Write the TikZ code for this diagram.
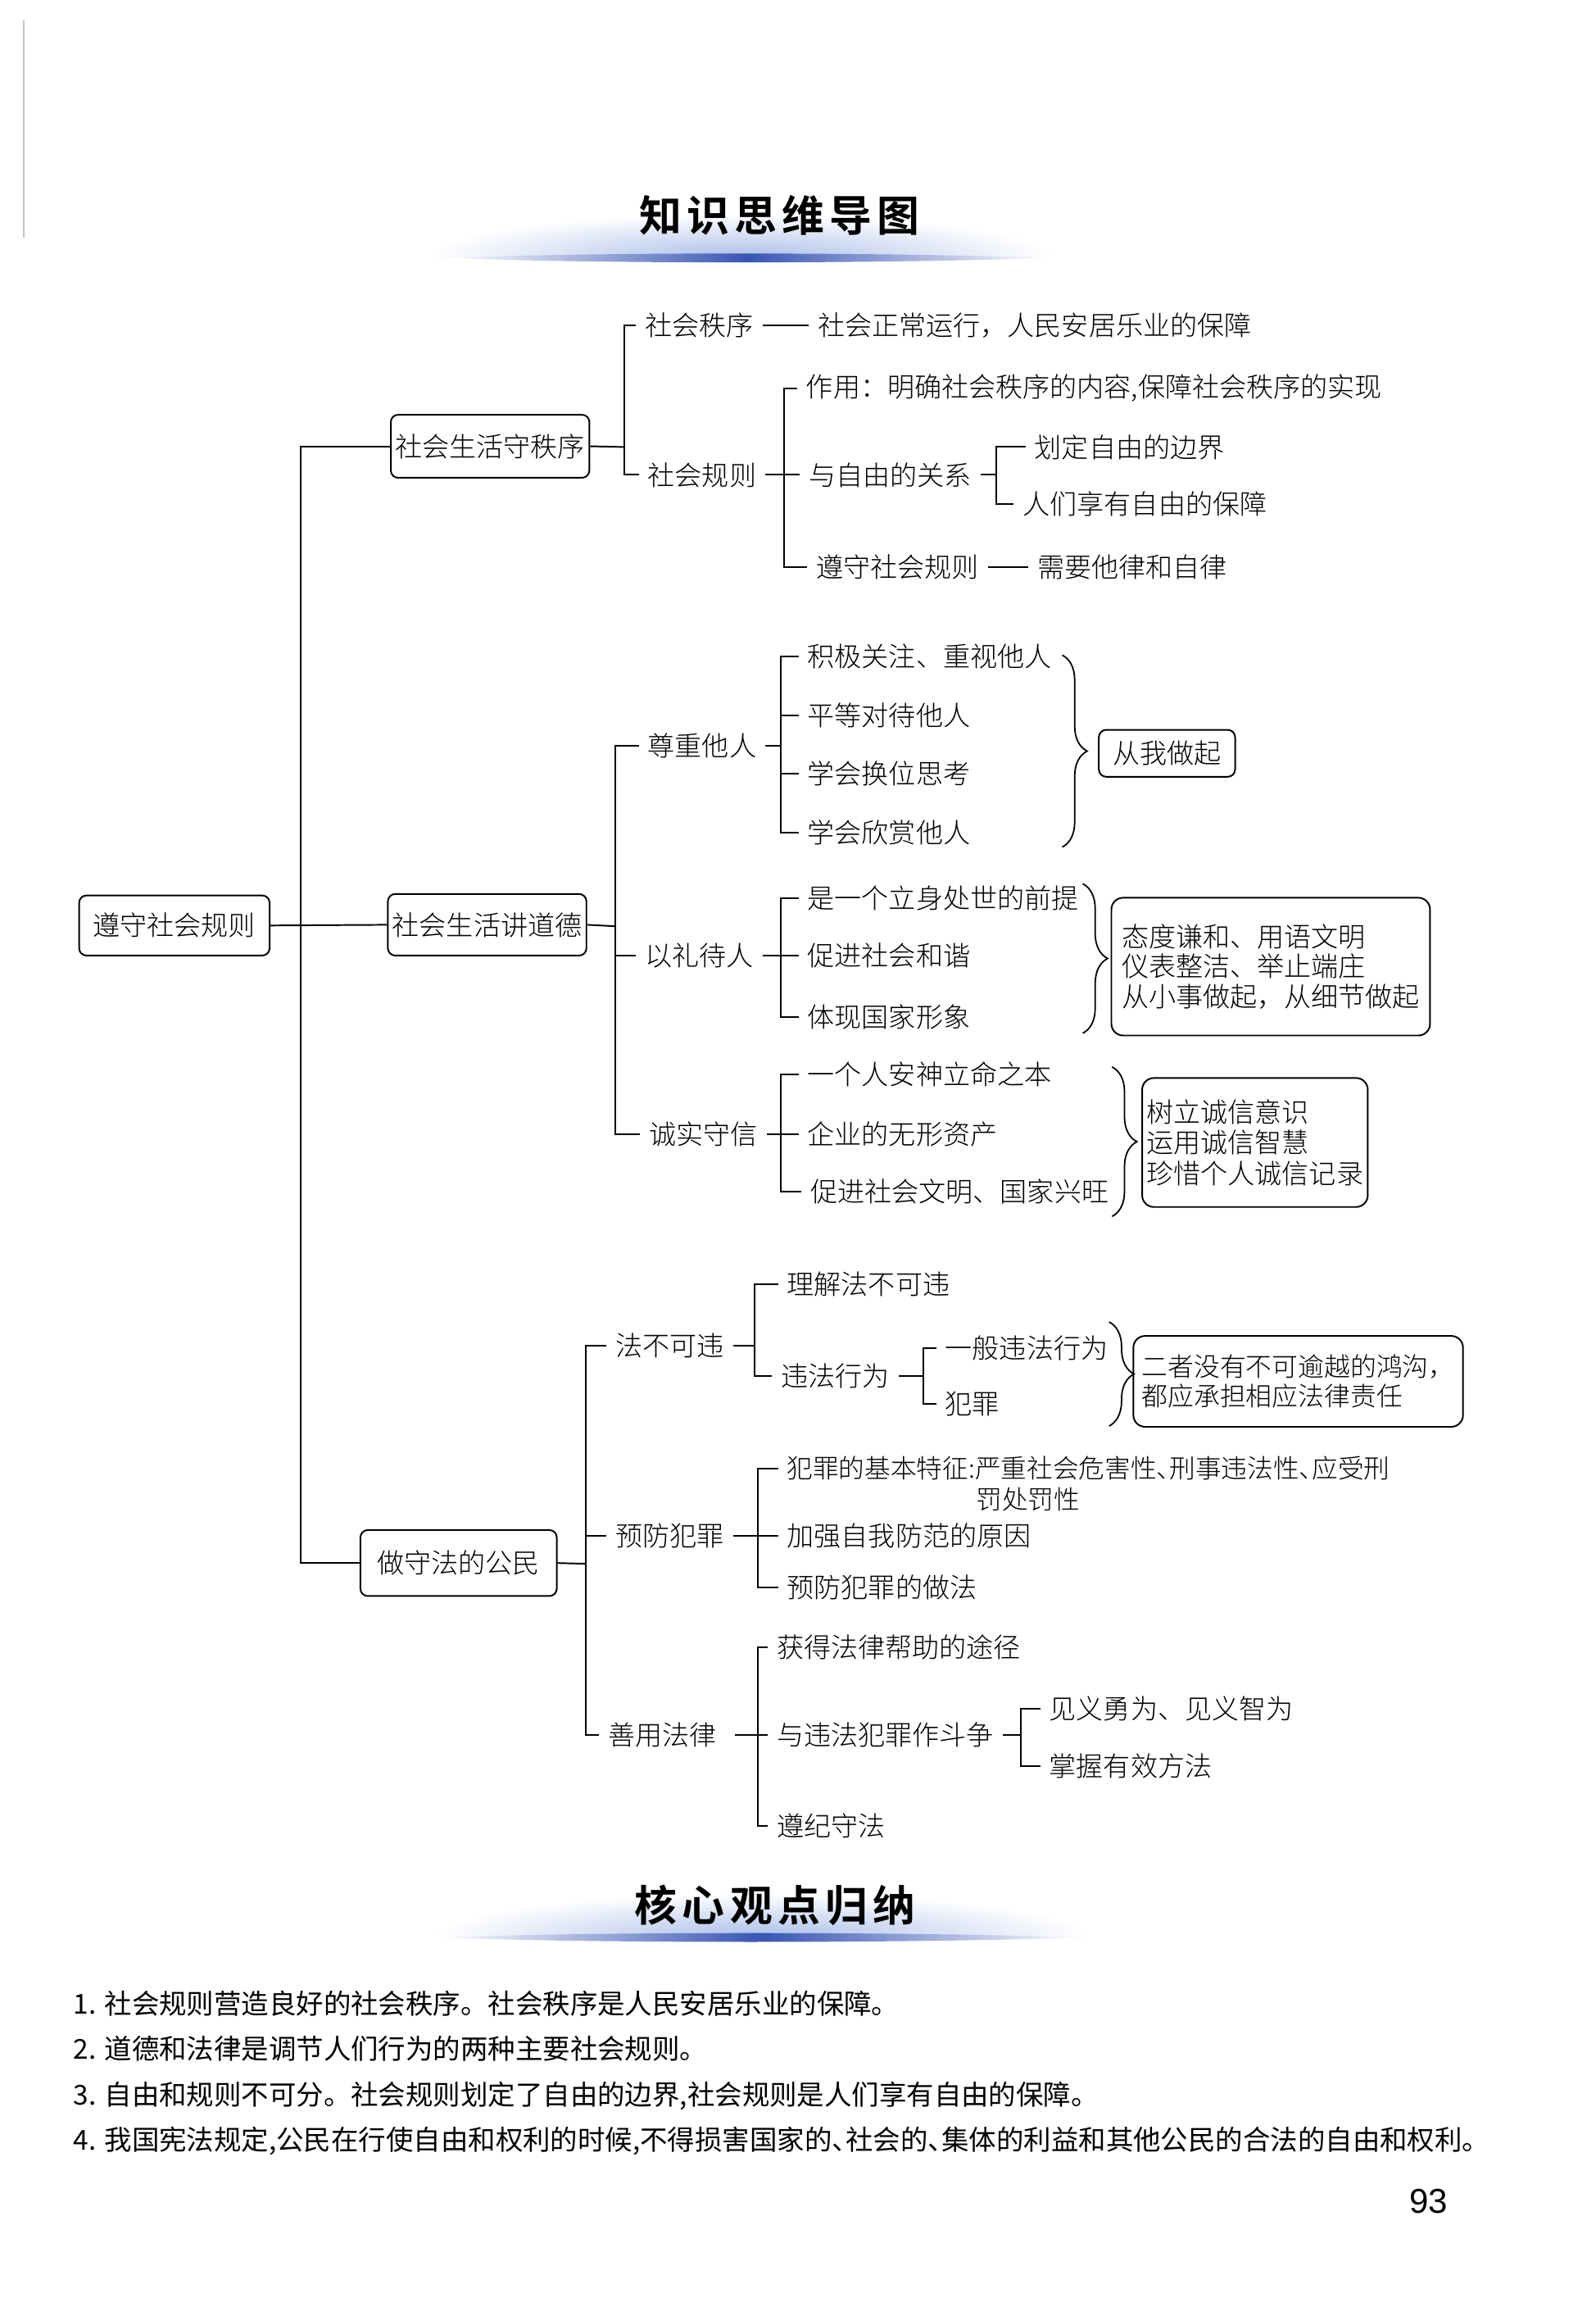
\documentclass[tikz,border=0pt]{standalone}
\usepackage{fontspec}
\setmainfont{Noto Sans CJK SC}
\newfontfamily\cjk{Noto Sans CJK SC}
\newfontfamily\cjkl{Noto Sans CJK SC Light}
\newfontfamily\cjkt{Noto Sans CJK SC Bold}[LetterSpace=12]
\newfontfamily\numfont{Liberation Sans}
\usetikzlibrary{decorations.pathreplacing}
\newcommand{\mysz}{\fontsize{18.5}{20.5}\selectfont}
\newcommand{\hw}[1]{\makebox[0.5em][l]{#1}}
\definecolor{barblue}{RGB}{55,85,180}
\definecolor{hazeblue}{RGB}{170,190,232}
\tikzset{
  ln/.style={line width=1.1pt},
  box/.style={draw, rounded corners=5pt, line width=1.1pt, font=\cjkl\mysz, inner xsep=3pt, inner ysep=2pt},
  bigbox/.style={draw, rounded corners=8pt, line width=1.1pt, font=\cjkl\mysz, align=left, anchor=north west},
  txt/.style={anchor=west, inner xsep=6pt, inner ysep=2pt, font=\cjkl\mysz},
  brc/.style={decorate, decoration={brace, amplitude=17pt, aspect=0.5}, line width=1pt},
  title/.style={font=\cjkt\fontsize{29}{29}\selectfont},
  para/.style={anchor=west, inner sep=0pt, font=\cjk\fontsize{18.7}{20.5}\selectfont},
}
\begin{document}
\begin{tikzpicture}[x=1pt,y=-1pt]
\useasboundingbox (0,0) rectangle (1089,1568);
\fill[white] (0,0) rectangle (1089,1568);
% scan edge line
\draw[gray!45, line width=1pt] (16,14) -- (16,162);

% ---------- title 1 ----------
\begin{scope}
  \clip (280,120) rectangle (760,176);
  \shade[inner color=hazeblue, outer color=white] (505,176) ellipse (215 and 30);
\end{scope}
\shade[left color=white, right color=white, middle color=barblue]
  (305,176) .. controls (420,171.5) and (620,172.5) .. (715,176)
  .. controls (620,179.5) and (420,180.5) .. (305,176);
\node[title] (t1) at (532,147) {知识思维导图};

% ---------- level 0 / 1 ----------
\node[box, minimum width=130, minimum height=41] (root) at (119,631.5) {遵守社会规则};
\node[box, minimum width=135, minimum height=43] (order) at (334.5,304.5) {社会生活守秩序};
\node[box, minimum width=135, minimum height=42] (moral) at (332.5,631) {社会生活讲道德};
\node[box, minimum width=134, minimum height=45] (law) at (313,1066.5) {做守法的公民};

\coordinate (bus0) at (205,632);
\draw[ln] (root.east) -- (moral.west);
\draw[ln] (order.west) -| (bus0) |- (law.west);

% ---------- branch 1 ----------
\node[txt] (shzx) at (434,222) {社会秩序};
\node[txt] (shzxd) at (552,222) {社会正常运行，人民安居乐业的保障};
\node[txt] (shgz) at (436,324) {社会规则};
\node[txt] (zy) at (544,265) {作用：明确社会秩序的内容,保障社会秩序的实现};
\node[txt] (yzy) at (546,324) {与自由的关系};
\node[txt] (hd) at (700,305) {划定自由的边界};
\node[txt] (rm) at (692,344) {人们享有自由的保障};
\node[txt] (zsgz) at (551,387) {遵守社会规则};
\node[txt] (tlzl) at (702,387) {需要他律和自律};

\coordinate (bus1) at (426,305);
\coordinate (bus2) at (535,324);
\coordinate (bus3) at (680,324);
\draw[ln] (order.east) -- (bus1);
\draw[ln] (shzx.west) -| (bus1) |- (shgz.west);
\draw[ln] (shzx.east) -- (shzxd.west);
\draw[ln] (shgz.east) -- (yzy.west);
\draw[ln] (zy.west) -| (bus2) |- (zsgz.west);
\draw[ln] (yzy.east) -- (bus3);
\draw[ln] (hd.west) -| (bus3) |- (rm.west);
\draw[ln] (zsgz.east) -- (tlzl.west);

% ---------- branch 2 ----------
\node[txt] (zz) at (436,509) {尊重他人};
\node[txt] (jj) at (545,448) {积极关注、重视他人};
\node[txt] (pd) at (545,488) {平等对待他人};
\node[txt] (hw) at (545,528) {学会换位思考};
\node[txt] (xs) at (545,568) {学会欣赏他人};
\node[box, minimum width=93, minimum height=32] (cwzq) at (796.5,514) {从我做起};

\node[txt] (ylr) at (434,652) {以礼待人};
\node[txt] (qt) at (545,613) {是一个立身处世的前提};
\node[txt] (cjhx) at (545,652) {促进社会和谐};
\node[txt] (tx) at (545,694) {体现国家形象};
\node[bigbox, minimum width=216, minimum height=94, inner xsep=7pt] (lybox) at (758,612)
  {态度谦和、用语文明\\仪表整洁、举止端庄\\从小事做起，从细节做起};

\node[txt] (cs) at (437,774) {诚实守信};
\node[txt] (yg) at (545,733) {一个人安神立命之本};
\node[txt] (qy) at (545,774) {企业的无形资产};
\node[txt] (cj) at (547,813) {促进社会文明、国家兴旺};
\node[bigbox, minimum width=153, minimum height=88, inner xsep=3pt,
  font=\cjkl\fontsize{18.5}{21}\selectfont] (cxbox) at (779,735)
  {树立诚信意识\\运用诚信智慧\\珍惜个人诚信记录};

\coordinate (bus4) at (420,632);
\coordinate (bus5) at (533,509);
\coordinate (bus6) at (533,652);
\coordinate (bus7) at (533,774);
\draw[ln] (moral.east) -- (bus4);
\draw[ln] (zz.west) -| (bus4) |- (cs.west);
\draw[ln] (ylr.west) -- (ylr.west -| bus4);
\draw[ln] (zz.east) -- (bus5);
\draw[ln] (jj.west) -| (bus5) |- (xs.west);
\draw[ln] (pd.west) -- (pd.west -| bus5);
\draw[ln] (hw.west) -- (hw.west -| bus5);
\draw[ln] (ylr.east) -- (cjhx.west);
\draw[ln] (qt.west) -| (bus6) |- (tx.west);
\draw[ln] (cs.east) -- (qy.west);
\draw[ln] (yg.west) -| (bus7) |- (cj.west);

\draw[brc] (725,447) -- (725,578);
\draw[brc] (739,603) -- (739,705);
\draw[brc] (759,728) -- (759,830);

% ---------- branch 3 ----------
\node[txt] (fbkw) at (414,918) {法不可违};
\node[txt] (lj) at (531,876) {理解法不可违};
\node[txt] (wf) at (527,939) {违法行为};
\node[txt] (yb) at (639,920) {一般违法行为};
\node[txt] (fz) at (639,958) {犯罪};
\node[bigbox, minimum width=225, minimum height=62, inner xsep=5pt,
  font=\cjkl\fontsize{17.8}{20}\selectfont] (zrbox) at (773,911)
  {二者没有不可逾越的鸿沟，\\都应承担相应法律责任};

\node[txt] (yf) at (414,1048) {预防犯罪};
\node[txt, font=\cjkl\fontsize{17.7}{20}\selectfont] (tz) at (531,1002) {犯罪的基本特征:严重社会危害性\hw{、}刑事违法性\hw{、}应受刑};
\node[txt, font=\cjkl\fontsize{17.7}{20}\selectfont] (tz2) at (660,1023) {罚处罚性};
\node[txt] (jq) at (531,1048) {加强自我防范的原因};
\node[txt] (zf) at (531,1083) {预防犯罪的做法};

\node[txt] (syfl) at (409,1184) {善用法律};
\node[txt] (hd2) at (524,1124) {获得法律帮助的途径};
\node[txt] (ywf) at (524,1184) {与违法犯罪作斗争};
\node[txt] (jy) at (710,1166) {见义勇为、见义智为};
\node[txt] (zw) at (710,1205) {掌握有效方法};
\node[txt] (zj) at (524,1246) {遵纪守法};

\coordinate (bus8) at (400,1067);
\coordinate (bus9) at (515,918);
\coordinate (bus10) at (630,939);
\coordinate (bus11) at (517,1048);
\coordinate (bus12) at (517,1184);
\coordinate (bus13) at (697,1184);
\draw[ln] (law.east) -- (bus8);
\draw[ln] (fbkw.west) -| (bus8) |- (syfl.west);
\draw[ln] (yf.west) -- (yf.west -| bus8);
\draw[ln] (fbkw.east) -- (bus9);
\draw[ln] (lj.west) -| (bus9) |- (wf.west);
\draw[ln] (wf.east) -- (bus10);
\draw[ln] (yb.west) -| (bus10) |- (fz.west);
\draw[ln] (yf.east) -- (jq.west);
\draw[ln] (tz.west) -| (bus11) |- (zf.west);
\draw[ln] ([xshift=6pt]syfl.east) -- (ywf.west);
\draw[ln] (hd2.west) -| (bus12) |- (zj.west);
\draw[ln] (ywf.east) -- (bus13);
\draw[ln] (jy.west) -| (bus13) |- (zw.west);

\draw[brc] (757,902) -- (757,973);

% ---------- title 2 ----------
\begin{scope}
  \clip (280,1270) rectangle (780,1322);
  \shade[inner color=hazeblue, outer color=white] (520,1322) ellipse (225 and 30);
\end{scope}
\shade[left color=white, right color=white, middle color=barblue]
  (300,1322) .. controls (420,1317.5) and (640,1318.5) .. (740,1322)
  .. controls (640,1325.5) and (420,1326.5) .. (300,1322);
\node[title] (t2) at (529,1300) {核心观点归纳};

% ---------- summary ----------
\node[para] (p1) at (50,1367) {1. 社会规则营造良好的社会秩序。社会秩序是人民安居乐业的保障。};
\node[para] (p2) at (50,1398) {2. 道德和法律是调节人们行为的两种主要社会规则。};
\node[para] (p3) at (50,1430) {3. 自由和规则不可分。社会规则划定了自由的边界,社会规则是人们享有自由的保障。};
\node[para] (p4) at (50,1461) {4. 我国宪法规定,公民在行使自由和权利的时候,不得损害国家的\hw{、}社会的\hw{、}集体的利益和其他公民的合法的自由和权利。};

\node[font=\numfont\fontsize{23.5}{24}\selectfont] (pg) at (975,1502) {93};
\end{tikzpicture}
\end{document}
